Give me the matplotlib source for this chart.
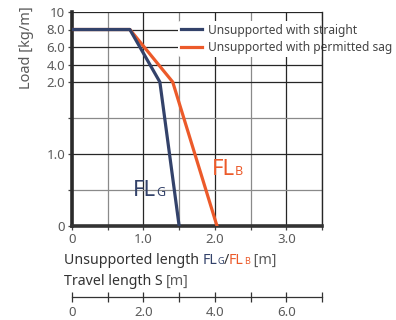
import matplotlib
matplotlib.use("Agg")
import matplotlib.pyplot as plt
import numpy as np

plt.rcParams['font.family'] = ['Noto Sans', 'DejaVu Sans']

# data
straight_x = [0, 0.81, 1.23, 1.50]
straight_y = [8.0, 8.0, 2.0, 0.0]
sag_x = [0, 0.81, 1.41, 2.03]
sag_y = [8.0, 8.0, 2.0, 0.0]
y_ticks = [0, 1.0, 2.0, 4.0, 6.0, 8.0, 10]
y_labels = ['0', '1.0', '2.0', '4.0', '6.0', '8.0', '10']
x_ticks = [0, 1.0, 2.0, 3.0]
x_labels = ['0', '1.0', '2.0', '3.0']
travel_ticks = [0, 2.0, 4.0, 6.0]
travel_labels = ['0', '2.0', '4.0', '6.0']

NAVY = '#33426a'
ORANGE = '#ec5a2a'
GRAY = '#5a5a5a'
DARK = '#2a2a2a'

K = 8.75 / 72.0


def fwd(y):
    y = np.asarray(y, dtype=float)
    return np.where(y <= 2, y, 2 + (y - 2) * K)


def inv(y):
    y = np.asarray(y, dtype=float)
    return np.where(y <= 2, y, 2 + (y - 2) / K)


fig = plt.figure(figsize=(3.96, 3.2), dpi=100)
ax = fig.add_axes([72 / 396, 1 - 226 / 320, 250 / 396, 214 / 320])
ax.set_yscale('function', functions=(fwd, inv))
ax.set_xlim(0, 3.5)
ax.set_ylim(0, 10)

ax.set_axisbelow(True)
ax.set_xticks(x_ticks)
ax.set_xticklabels(x_labels, color=GRAY, fontsize=9.5)
ax.set_xticks([0.5, 1.5, 2.5, 3.5], minor=True)
ax.set_yticks(y_ticks)
ax.set_yticklabels(y_labels, color=GRAY, fontsize=9.5)
ax.set_yticks([0.5, 1.5], minor=True)
ax.grid(True, which='major', color='#262626', linewidth=0.9)
ax.grid(True, which='minor', color='#8a8a8a', linewidth=0.9)
ax.tick_params(axis='both', which='both', length=3, width=0.9, color='#444444', pad=2)

ax.spines['top'].set_visible(False)
ax.spines['right'].set_color('#262626')
ax.spines['right'].set_linewidth(1.0)
ax.spines['left'].set_color(DARK)
ax.spines['left'].set_linewidth(2.6)
ax.spines['bottom'].set_color('#333333')
ax.spines['bottom'].set_linewidth(2.6)

ax.plot(sag_x, sag_y, color=ORANGE, linewidth=2.3, label='Unsupported with permitted sag', zorder=3)
ax.plot(straight_x, straight_y, color=NAVY, linewidth=2.3, label='Unsupported with straight', zorder=4)

h, l = ax.get_legend_handles_labels()
leg = ax.legend(h[::-1], l[::-1], loc='upper left', bbox_to_anchor=(0.425, 0.96),
                frameon=True, fontsize=8.6, handlelength=1.7, handletextpad=0.5,
                labelspacing=0.35, borderaxespad=0, borderpad=0.25)
leg.get_frame().set_facecolor('white')
leg.get_frame().set_edgecolor('none')
leg.get_frame().set_alpha(1)
leg.set_zorder(2.2)
for t in leg.get_texts():
    t.set_color('#444444')

fig.text(27 / 396, 1 - 48 / 320, 'Load [kg/m]', rotation=90, ha='center', va='center',
         color=GRAY, fontsize=10.5)

# secondary travel axis
sec = ax.secondary_xaxis((226 - 297) / 214, functions=(lambda x: 2 * x, lambda x: x / 2))
sec.set_xticks(travel_ticks)
sec.set_xticklabels(travel_labels, color=GRAY, fontsize=9.5)
sec.set_xticks([1.0, 3.0, 5.0, 7.0], minor=True)
sec.tick_params(axis='x', which='both', direction='inout', length=7, width=0.9, color='#333333', pad=3)
sec.spines['bottom'].set_color('#333333')
sec.spines['bottom'].set_linewidth(0.9)

# text lines made of coloured pieces (pixel positions from the top left)
renderer = fig.canvas.get_renderer()


def draw_pieces(x0, y0, pieces):
    x = x0
    for txt, color, size in pieces:
        t = fig.text(x / 396, 1 - y0 / 320, txt, color=color, fontsize=size,
                     ha='left', va='baseline')
        x += t.get_window_extent(renderer).width


# curve labels
draw_pieces(133, 196, [('FL', NAVY, 16), ('G', NAVY, 9)])
draw_pieces(212, 175, [('FL', ORANGE, 16), ('B', ORANGE, 9)])

draw_pieces(64, 264, [('Unsupported length ', '#333333', 10.2),
                      ('FL', NAVY, 10.2), ('G', NAVY, 6.5),
                      ('/', '#333333', 10.2),
                      ('FL', ORANGE, 10.2), ('B', ORANGE, 6.5),
                      (' [m]', GRAY, 10.2)])
draw_pieces(64, 285, [('Travel length S ', '#333333', 10.2),
                      ('[m]', GRAY, 10.2)])

fig.savefig('out.png', dpi=100)
